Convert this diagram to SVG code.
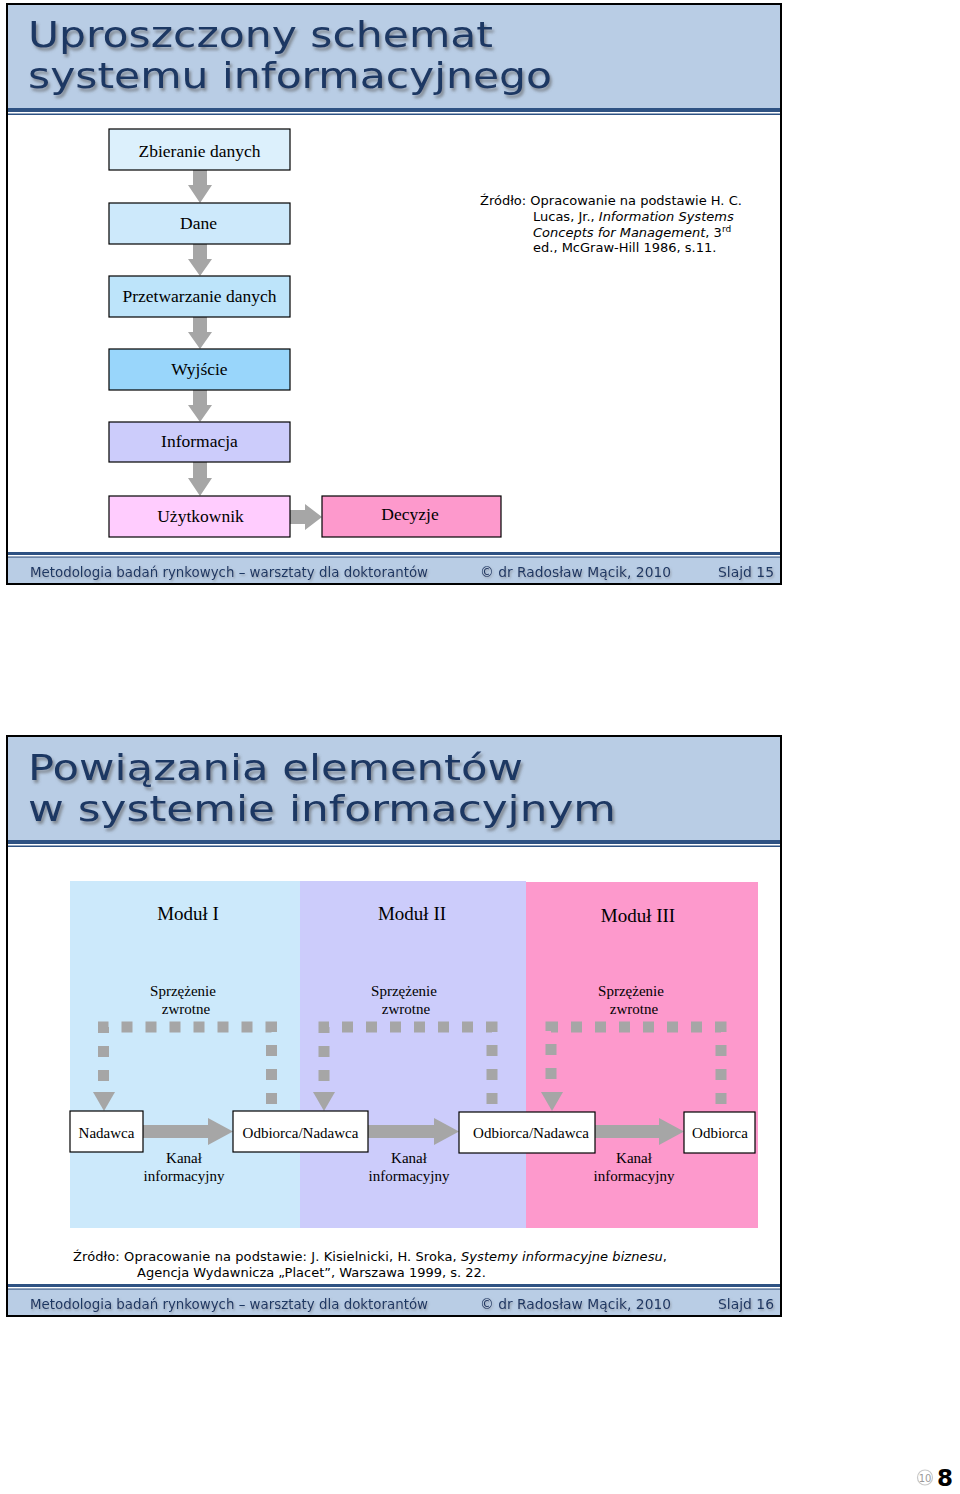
<svg xmlns="http://www.w3.org/2000/svg" width="960" height="1494" viewBox="0 0 960 1494">
<defs>
<style>
.frame{fill:#fff;stroke:#000;stroke-width:2}
.band{fill:#b9cde5}
.rule{fill:#2e5283}
.title{font-family:"DejaVu Sans",sans-serif;font-size:35px;fill:#1f3864;filter:url(#sh)}
.foot{font-family:"DejaVu Sans",sans-serif;font-size:14px;fill:#1f3864;filter:url(#sh2)}
.box{stroke:#000;stroke-width:1.2}
.serif{font-family:"Liberation Serif",serif;fill:#000;text-anchor:middle}
.t17{font-size:17.5px}
.t15{font-size:15px}
.t19{font-size:19px}
.src{font-family:"DejaVu Sans",sans-serif;font-size:13px;fill:#000}
.arr{fill:#a6a6a6}
.fb{fill:none;stroke:#a6a6a6;stroke-width:11;stroke-dasharray:11 13}
</style>
<filter id="sh" x="-5%" y="-20%" width="110%" height="150%">
<feDropShadow dx="2" dy="3" stdDeviation="1.5" flood-color="#5a5a5a" flood-opacity="0.6"/>
</filter>
<filter id="sh2" x="-5%" y="-30%" width="110%" height="160%">
<feDropShadow dx="1" dy="1.5" stdDeviation="0.8" flood-color="#6a6a6a" flood-opacity="0.5"/>
</filter>
</defs>
<rect width="960" height="1494" fill="#fff"/>

<!-- Slide 1 -->
<g id="slide1">
<rect class="frame" x="7" y="4" width="774" height="580"/>
<rect class="band" x="8" y="5" width="772" height="103"/>
<rect class="rule" x="8" y="108" width="772" height="4"/>
<rect class="rule" x="8" y="113.5" width="772" height="1.5"/>
<text class="title" x="28" y="47" textLength="465" lengthAdjust="spacingAndGlyphs">Uproszczony schemat</text>
<text class="title" x="28" y="88" textLength="524" lengthAdjust="spacingAndGlyphs">systemu informacyjnego</text>
<rect class="rule" x="8" y="552" width="772" height="3"/>
<rect class="rule" x="8" y="556.5" width="772" height="1.2"/>
<rect class="band" x="8" y="558" width="772" height="25"/>
<text class="foot" x="30" y="577" textLength="398" lengthAdjust="spacingAndGlyphs">Metodologia badań rynkowych – warsztaty dla doktorantów</text>
<text class="foot" x="480" y="577" textLength="191" lengthAdjust="spacingAndGlyphs">© dr Radosław Mącik, 2010</text>
<text class="foot" x="718" y="577" textLength="56" lengthAdjust="spacingAndGlyphs">Slajd 15</text>
</g>

<g id="s1-connectors">
<polygon class="arr" points="193,170 207,170 207,185 212,185 200,203 188,185 193,185"/>
<polygon class="arr" points="193,244 207,244 207,259 212,259 200,276 188,259 193,259"/>
<polygon class="arr" points="193,317 207,317 207,332 212,332 200,349 188,332 193,332"/>
<polygon class="arr" points="193,390 207,390 207,405 212,405 200,422 188,405 193,405"/>
<polygon class="arr" points="193,462 207,462 207,478 212,478 200,496 188,478 193,478"/>
<polygon class="arr" points="290,510 305,510 305,504 322,517 305,530 305,524 290,524"/>
</g>

<g id="n-zbieranie"><rect class="box" x="109" y="129" width="181" height="41" fill="#dcf0fc"/><text class="serif t17" x="199.5" y="157">Zbieranie danych</text></g>
<g id="n-dane"><rect class="box" x="109" y="203" width="181" height="41" fill="#cde9fb"/><text class="serif t17" x="198.5" y="229">Dane</text></g>
<g id="n-przetwarzanie"><rect class="box" x="109" y="276" width="181" height="41" fill="#bde4fa"/><text class="serif t17" x="199.5" y="302">Przetwarzanie danych</text></g>
<g id="n-wyjscie"><rect class="box" x="109" y="349" width="181" height="41" fill="#99d6fb"/><text class="serif t17" x="199.5" y="375">Wyjście</text></g>
<g id="n-informacja"><rect class="box" x="109" y="422" width="181" height="40" fill="#ccccfb"/><text class="serif t17" x="199.5" y="447">Informacja</text></g>
<g id="n-uzytkownik"><rect class="box" x="109" y="496" width="181" height="41" fill="#ffccfe"/><text class="serif t17" x="200.5" y="522">Użytkownik</text></g>
<g id="n-decyzje"><rect class="box" x="322" y="496" width="179" height="41" fill="#fd99cc"/><text class="serif t17" x="410" y="520">Decyzje</text></g>

<g id="source1">
<text class="src" x="480" y="205">Źródło: Opracowanie na podstawie H. C.</text>
<text class="src" x="533" y="221">Lucas, Jr., <tspan font-style="italic">Information Systems</tspan></text>
<text class="src" x="533" y="237"><tspan font-style="italic">Concepts for Management</tspan>, 3<tspan font-size="9" dy="-5">rd</tspan></text>
<text class="src" x="533" y="252">ed., McGraw-Hill 1986, s.11.</text>
</g>

<!-- Slide 2 -->
<g id="slide2">
<rect class="frame" x="7" y="736" width="774" height="580"/>
<rect class="band" x="8" y="737" width="772" height="103"/>
<rect class="rule" x="8" y="840" width="772" height="4"/>
<rect class="rule" x="8" y="845.5" width="772" height="1.5"/>
<text class="title" x="28" y="780" textLength="495" lengthAdjust="spacingAndGlyphs">Powiązania elementów</text>
<text class="title" x="28" y="821" textLength="588" lengthAdjust="spacingAndGlyphs">w systemie informacyjnym</text>
<rect class="rule" x="8" y="1284" width="772" height="3"/>
<rect class="rule" x="8" y="1288.5" width="772" height="1.2"/>
<rect class="band" x="8" y="1290" width="772" height="25"/>
<text class="foot" x="30" y="1309" textLength="398" lengthAdjust="spacingAndGlyphs">Metodologia badań rynkowych – warsztaty dla doktorantów</text>
<text class="foot" x="480" y="1309" textLength="191" lengthAdjust="spacingAndGlyphs">© dr Radosław Mącik, 2010</text>
<text class="foot" x="718" y="1309" textLength="56" lengthAdjust="spacingAndGlyphs">Slajd 16</text>
</g>

<g id="modul1"><rect x="70" y="881" width="230" height="347" fill="#cce9fb"/><text class="serif t19" x="188" y="920">Moduł I</text><text class="serif t15" x="183" y="996">Sprzężenie</text><text class="serif t15" x="186" y="1014">zwrotne</text></g>
<g id="modul2"><rect x="300" y="881" width="226" height="347" fill="#ccccfb"/><text class="serif t19" x="412" y="920">Moduł II</text><text class="serif t15" x="404" y="996">Sprzężenie</text><text class="serif t15" x="406" y="1014">zwrotne</text></g>
<g id="modul3"><rect x="526" y="882" width="232" height="346" fill="#fd99cc"/><text class="serif t19" x="638" y="922">Moduł III</text><text class="serif t15" x="631" y="996">Sprzężenie</text><text class="serif t15" x="634" y="1014">zwrotne</text></g>

<g id="s2-connectors">
<path class="fb" d="M271.5 1104 V1027 H103.5 V1092"/>
<polygon class="arr" points="93,1092 115,1092 104,1111"/>
<path class="fb" d="M492 1104 V1027 H324 V1092"/>
<polygon class="arr" points="313,1092 335,1092 324,1111"/>
<path class="fb" d="M721 1104 V1027 H551 V1092"/>
<polygon class="arr" points="541,1092 563,1092 552,1111"/>
<polygon class="arr" points="143,1125 208,1125 208,1118 233,1131.5 208,1145 208,1138 143,1138"/>
<polygon class="arr" points="368,1125 434,1125 434,1118 459,1131.5 434,1145 434,1138 368,1138"/>
<polygon class="arr" points="595,1125 659,1125 659,1118 684,1131.5 659,1145 659,1138 595,1138"/>
<text class="serif t15" x="184" y="1163">Kanał</text><text class="serif t15" x="184" y="1181">informacyjny</text>
<text class="serif t15" x="409" y="1163">Kanał</text><text class="serif t15" x="409" y="1181">informacyjny</text>
<text class="serif t15" x="634" y="1163">Kanał</text><text class="serif t15" x="634" y="1181">informacyjny</text>
</g>

<g id="n-nadawca"><rect class="box" x="70" y="1111" width="73" height="41" fill="#fff"/><text class="serif t15" x="106.5" y="1138">Nadawca</text></g>
<g id="n-odbnad1"><rect class="box" x="233" y="1111" width="135" height="41" fill="#fff"/><text class="serif t15" x="300.5" y="1138">Odbiorca/Nadawca</text></g>
<g id="n-odbnad2"><rect class="box" x="459" y="1112" width="136" height="41" fill="#fff"/><text class="serif t15" x="531" y="1138">Odbiorca/Nadawca</text></g>
<g id="n-odbiorca"><rect class="box" x="684" y="1112" width="71" height="41" fill="#fff"/><text class="serif t15" x="720" y="1138">Odbiorca</text></g>

<g id="source2">
<text class="src" x="73" y="1261" textLength="594" lengthAdjust="spacing">Źródło: Opracowanie na podstawie: J. Kisielnicki, H. Sroka, <tspan font-style="italic">Systemy informacyjne biznesu</tspan>,</text>
<text class="src" x="137" y="1277">Agencja Wydawnicza „Placet”, Warszawa 1999, s. 22.</text>
</g>

<g id="pagenum">
<circle cx="925" cy="1477.5" r="7.5" fill="none" stroke="#c8c8c8" stroke-width="1.2"/>
<text x="925" y="1481.5" font-family="DejaVu Sans,sans-serif" font-size="10" fill="#9a9a9a" text-anchor="middle">10</text>
<text x="937" y="1486" font-family="DejaVu Sans,sans-serif" font-size="23" font-weight="bold" fill="#000">8</text>
</g>
</svg>
